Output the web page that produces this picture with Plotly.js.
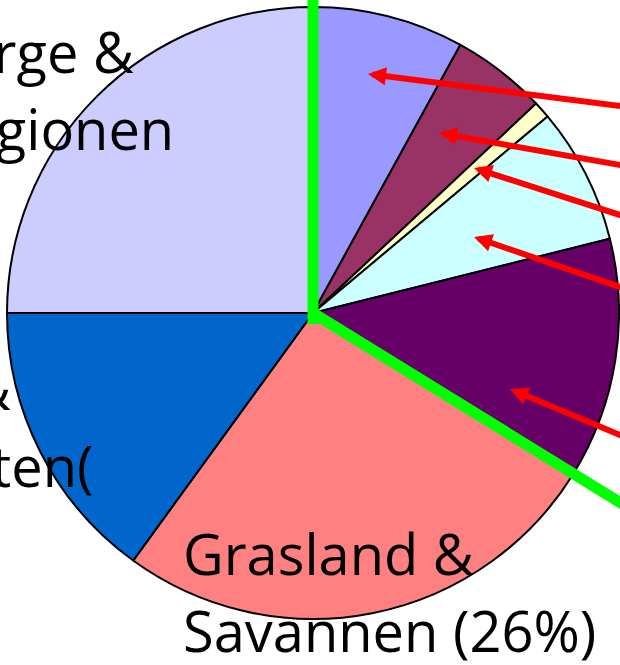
<!DOCTYPE html>
<html>
<head>
<meta charset="utf-8">
<script src="https://cdn.plot.ly/plotly-3.0.1.min.js"></script>
<style>
html,body{margin:0;padding:0;overflow:hidden;width:620px;height:665px;background:#fff;}
#chart{width:920px;height:665px;}
</style>
</head>
<body>
<div id="chart"></div>
<script>
// Slices clockwise from 12 o'clock
const categories = ['Slice A', 'Slice B', 'Slice C', 'Slice D', 'Slice E',
                    'Grasland & Savannen', 'Wüsten & Halbwüsten', 'Berge & Polarregionen'];
const shares = [8.0, 5.0, 0.9, 7.2, 12.7, 26.2, 15.0, 25.0];
const sliceColors = ['#9999FF', '#993366', '#FFFFCC', '#CCFFFF', '#660066',
                     '#FF8080', '#0066CC', '#CCCCFF'];

// Layout geometry (pixels)
const W = 920, H = 665, ML = 7, MT = 7, S = 612;
const cx = ML + S / 2, cy = MT + S / 2;
const px2x = p => (p - ML) / S;
const px2y = p => 1 - (p - MT) / S;

// boundary angle (deg clockwise from top) after k slices
const total = shares.reduce((a, b) => a + b, 0);
function boundaryAngle(k) {
  let c = 0; for (let i = 0; i < k; i++) c += shares[i];
  return c / total * 360;
}
function polar(angDeg, len) {
  const a = angDeg * Math.PI / 180;
  return [cx + len * Math.sin(a), cy - len * Math.cos(a)];
}

// Green highlight lines along slice boundaries
const a0 = boundaryAngle(0), a5 = boundaryAngle(5);
const topEnd = polar(a0, 330), topStart = polar(a0 + 180, 11);
const diagEnd = polar(a5, 500);
const shapes = [
  {type: 'line', xref: 'paper', yref: 'paper',
   x0: px2x(topStart[0]), y0: px2y(topStart[1]), x1: px2x(topEnd[0]), y1: px2y(topEnd[1]),
   line: {color: '#00FF00', width: 11}},
  {type: 'line', xref: 'paper', yref: 'paper',
   x0: px2x(cx), y0: px2y(cy), x1: px2x(diagEnd[0]), y1: px2y(diagEnd[1]),
   line: {color: '#00FF00', width: 11}}
];

// Red pointer arrows: head and tail positions (pixels)
const arrowHeads = [[368, 74], [439, 133], [474, 168], [474, 237], [510, 389]];
const arrowTails = [[620, 106], [620, 165], [620, 215], [620, 287], [620, 435]];

const annotations = [];
arrowHeads.forEach((h, i) => {
  const t = arrowTails[i];
  const f = (720 - h[0]) / (t[0] - h[0]);
  annotations.push({
    xref: 'paper', yref: 'paper', x: px2x(h[0]), y: px2y(h[1]),
    ax: (t[0] - h[0]) * f, ay: (t[1] - h[1]) * f,
    text: '', showarrow: true, arrowhead: 2, arrowsize: 0.6,
    arrowwidth: 6, arrowcolor: '#FF0000', standoff: 0
  });
});

// Text labels: [text, x px, baseline px, anchor]
const labelLines = [
  ['Berge &', 135, 73, 'right'],
  ['Polarregionen', 175, 150, 'right'],
  ['Wüsten &', 12, 410, 'right'],
  ['Halbwüsten(', 95, 487, 'right'],
  ['Grasland &', 182, 575, 'left'],
  ['Savannen (26%)', 182, 652, 'left']
];
const FS = 56;
labelLines.forEach(l => {
  annotations.push({
    xref: 'paper', yref: 'paper', x: px2x(l[1]), y: px2y(l[2] - 0.4 * FS),
    xanchor: l[3], yanchor: 'middle', text: l[0], showarrow: false,
    font: {family: '"Open Sans", sans-serif', size: FS, color: '#000000'},
    borderpad: 0
  });
});

const data = [{
  type: 'pie', labels: categories, values: shares, sort: false,
  direction: 'clockwise', rotation: 0,
  marker: {colors: sliceColors, line: {color: '#000000', width: 2}},
  textinfo: 'none', hoverinfo: 'none', showlegend: false
}];

const layout = {
  width: W, height: H,
  margin: {l: ML, t: MT, r: W - ML - S, b: H - MT - S, pad: 0},
  paper_bgcolor: '#FFFFFF', plot_bgcolor: '#FFFFFF',
  showlegend: false, shapes: shapes, annotations: annotations
};

Plotly.newPlot('chart', data, layout, {staticPlot: true, displayModeBar: false});
</script>
</body>
</html>
